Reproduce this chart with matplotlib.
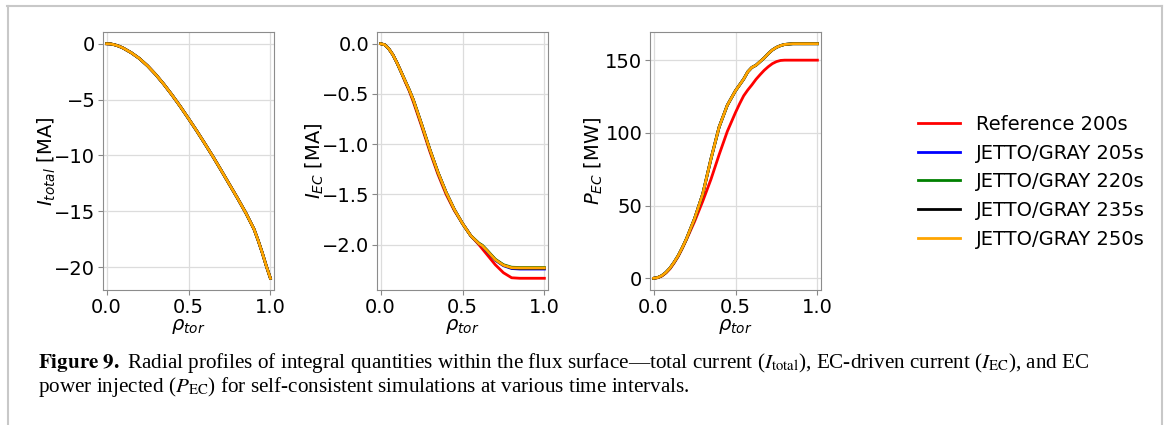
import numpy as np
import matplotlib
matplotlib.use("Agg")
import matplotlib.pyplot as plt
from matplotlib.lines import Line2D

# =========================
# 1. Data
# =========================

labels = ["Reference 200s", "JETTO/GRAY 205s", "JETTO/GRAY 220s",
          "JETTO/GRAY 235s", "JETTO/GRAY 250s"]
colors = ["red", "blue", "green", "black", "orange"]

# total current
rho_tot = [0.0, 0.025, 0.05, 0.075, 0.1, 0.15, 0.2, 0.25, 0.3, 0.35, 0.4,
           0.45, 0.5, 0.55, 0.6, 0.65, 0.7, 0.75, 0.8, 0.85, 0.9, 0.925,
           0.95, 0.975, 1.0]
I_tot = [0.0, -0.02, -0.1, -0.22, -0.38, -0.8, -1.32, -1.98, -2.76, -3.64,
         -4.6, -5.62, -6.7, -7.8, -8.95, -10.12, -11.35, -12.6, -13.85,
         -15.15, -16.6, -17.6, -18.7, -19.9, -21.0]

# EC-driven current
rho_ec = [0.0, 0.025, 0.05, 0.075, 0.1, 0.125, 0.15, 0.175, 0.2, 0.25, 0.3,
          0.35, 0.4, 0.45, 0.5, 0.55, 0.6, 0.62, 0.65, 0.7, 0.75, 0.8, 0.85,
          1.0]
I_ec_ref = [0.0, -0.01, -0.05, -0.11, -0.19, -0.28, -0.38, -0.47, -0.58,
            -0.82, -1.07, -1.3, -1.5, -1.66, -1.79, -1.91, -2.0, -2.04, -2.1,
            -2.2, -2.28, -2.33, -2.335, -2.335]
I_ec_205 = [0.0, -0.01, -0.05, -0.11, -0.19, -0.28, -0.37, -0.46, -0.56,
            -0.8, -1.05, -1.28, -1.48, -1.65, -1.79, -1.91, -1.99, -2.01,
            -2.065, -2.155, -2.21, -2.238, -2.243, -2.243]
I_ec_220 = [0.0, -0.01, -0.05, -0.11, -0.19, -0.28, -0.37, -0.46, -0.56,
            -0.8, -1.05, -1.28, -1.48, -1.65, -1.79, -1.91, -1.985, -2.005,
            -2.055, -2.145, -2.2, -2.225, -2.228, -2.228]
I_ec_235 = [0.0, -0.01, -0.05, -0.11, -0.19, -0.28, -0.37, -0.46, -0.56,
            -0.8, -1.05, -1.28, -1.48, -1.65, -1.79, -1.91, -1.99, -2.01,
            -2.06, -2.15, -2.205, -2.232, -2.235, -2.235]
I_ec_250 = [0.0, -0.01, -0.05, -0.11, -0.19, -0.28, -0.37, -0.46, -0.56,
            -0.8, -1.05, -1.28, -1.48, -1.65, -1.79, -1.91, -1.99, -2.01,
            -2.06, -2.15, -2.205, -2.23, -2.232, -2.232]

# EC power
rho_p = [0.0, 0.025, 0.05, 0.075, 0.1, 0.125, 0.15, 0.175, 0.2, 0.25, 0.3,
         0.35, 0.4, 0.45, 0.5, 0.525, 0.55, 0.575, 0.6, 0.625, 0.65, 0.675,
         0.7, 0.725, 0.75, 0.775, 0.8, 0.85, 1.0]
P_ref = [0.0, 0.4, 1.5, 3.6, 6.5, 10.5, 15.0, 20.5, 26.5, 39.0, 53.0, 68.0,
         85.0, 101.0, 114.0, 120.0, 125.5, 129.5, 133.0, 136.8, 140.0, 143.0,
         145.5, 147.6, 149.0, 149.8, 150.0, 150.0, 150.0]
P_sim = [0.0, 0.5, 1.8, 4.0, 7.0, 11.0, 15.5, 21.0, 27.0, 41.0, 58.0, 82.0,
         104.0, 119.0, 129.0, 133.0, 137.0, 142.0, 145.0, 146.5, 149.0, 151.5,
         154.5, 157.0, 158.8, 160.0, 160.8, 161.3, 161.3]

# =========================
# 2. Figure
# =========================

fig = plt.figure(figsize=(11.67, 4.25), dpi=100)
W, H = 1167, 425


def add_ax(x0, x1, y0=32, y1=290):
    return fig.add_axes([x0 / W, 1 - y1 / H, (x1 - x0) / W, (y1 - y0) / H])


ax1 = add_ax(103, 274)
ax2 = add_ax(377, 548)
ax3 = add_ax(650, 821)

FS = 14
for c, lab in zip(colors, labels):
    ax1.plot(rho_tot, I_tot, color=c, lw=2, label=lab)

for c, lab, y in zip(colors, labels,
                     [I_ec_ref, I_ec_205, I_ec_220, I_ec_235, I_ec_250]):
    ax2.plot(rho_ec, y, color=c, lw=2, label=lab)

for c, lab in zip(colors, labels):
    y = P_ref if c == "red" else P_sim
    ax3.plot(rho_p, y, color=c, lw=2, label=lab)

ax1.set_ylabel(r"$I_{total}$ [MA]", fontsize=FS, labelpad=-3)
ax2.set_ylabel(r"$I_{EC}$ [MA]", fontsize=FS, labelpad=-3)
ax3.set_ylabel(r"$P_{EC}$ [MW]", fontsize=FS, labelpad=0)
ax2.set_yticks([0.0, -0.5, -1.0, -1.5, -2.0])
ax3.set_yticks([0, 50, 100, 150])

for ax in (ax1, ax2, ax3):
    ax.set_xlim(-0.022, 1.022)
    ax.set_xticks([0.0, 0.5, 1.0])
    ax.set_xlabel(r"$\rho_{tor}$", fontsize=FS, labelpad=0)
    ax.tick_params(labelsize=FS, color="#888888", length=3.5, pad=2)
    ax.grid(True, color="#dcdcdc", lw=0.9)
    for s in ax.spines.values():
        s.set_color("#8c8c8c")

fig.legend(handles=ax1.get_lines(), labels=labels, loc="center left",
           bbox_to_anchor=(900 / W, 1 - 181.8 / H), frameon=False,
           fontsize=FS, handlelength=2.2, handletextpad=0.8,
           labelspacing=0.5)

# caption
cap1 = (r"$\mathbf{Figure\ 9.}$ Radial profiles of integral quantities within the "
        r"flux surface—total current ($I_{\rm total}$), EC-driven current "
        r"($I_{\rm EC}$), and EC")
cap2 = (r"power injected ($P_{\rm EC}$) for self-consistent simulations at "
        r"various time intervals.")
fig.text(38 / W, 1 - 363 / H, cap1, fontsize=15.2, family="Liberation Serif",
         math_fontfamily="stix", va="center", ha="left")
fig.text(38 / W, 1 - 387 / H, cap2, fontsize=15.2, family="Liberation Serif",
         math_fontfamily="stix", va="center", ha="left")

# frame around the figure
bc = "#c8c8c8"
fig.add_artist(Line2D([7 / W, 1162 / W], [1 - 5.5 / H, 1 - 5.5 / H],
                      color=bc, lw=1.5, transform=fig.transFigure))
fig.add_artist(Line2D([7.5 / W, 7.5 / W], [0, 1 - 5.5 / H],
                      color=bc, lw=1.5, transform=fig.transFigure))
fig.add_artist(Line2D([1162 / W, 1162 / W], [0, 1 - 5.5 / H],
                      color=bc, lw=1.5, transform=fig.transFigure))

fig.savefig("out.png", dpi=100)
